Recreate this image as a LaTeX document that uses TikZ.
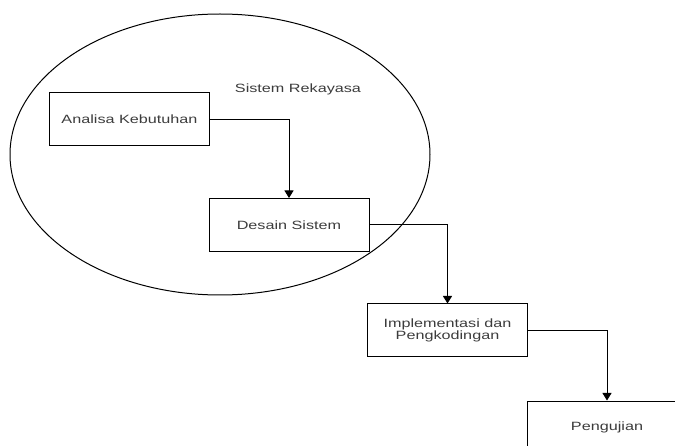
\documentclass[tikz,border=0pt]{standalone}
\usepackage{fontspec}
\setmainfont[FakeStretch=1.35]{Liberation Sans}
\usetikzlibrary{arrows.meta}
\definecolor{txt}{RGB}{60,60,60}
\tikzset{
  stepbox/.style={draw=black, line width=1pt, minimum width=160pt, minimum height=53pt, inner sep=0pt, text=txt, align=center, font=\fontsize{12}{12.5}\selectfont},
  conn/.style={draw=black, line width=1pt, -{Triangle[width=9pt,length=7.5pt]}},
}
\begin{document}
\begin{tikzpicture}[x=1pt,y=-1pt]
\useasboundingbox (0,0) rectangle (675,446);
\clip (0,0) rectangle (675,446);
\fill[white] (0,0) rectangle (675,446);
\draw[line width=1pt] (220,154.5) ellipse [x radius=210, y radius=140.5];
\node[text=txt, font=\fontsize{12}{12.5}\selectfont] (title) at (298,89) {Sistem Rekayasa};
\node[stepbox] (a) at (129.5,119.5) {Analisa Kebutuhan};
\node[stepbox] (d) at (289,225) {Desain Sistem};
\node[stepbox] (i) at (447.5,330.5) {Implementasi dan\\Pengkodingan};
\node[stepbox] (p) at (607,427.5) {Pengujian};
\draw[conn] (a.east) -| (d.north);
\draw[conn] (d.east) -| (i.north);
\draw[conn] (i.east) -| (p.north);
\end{tikzpicture}
\end{document}
